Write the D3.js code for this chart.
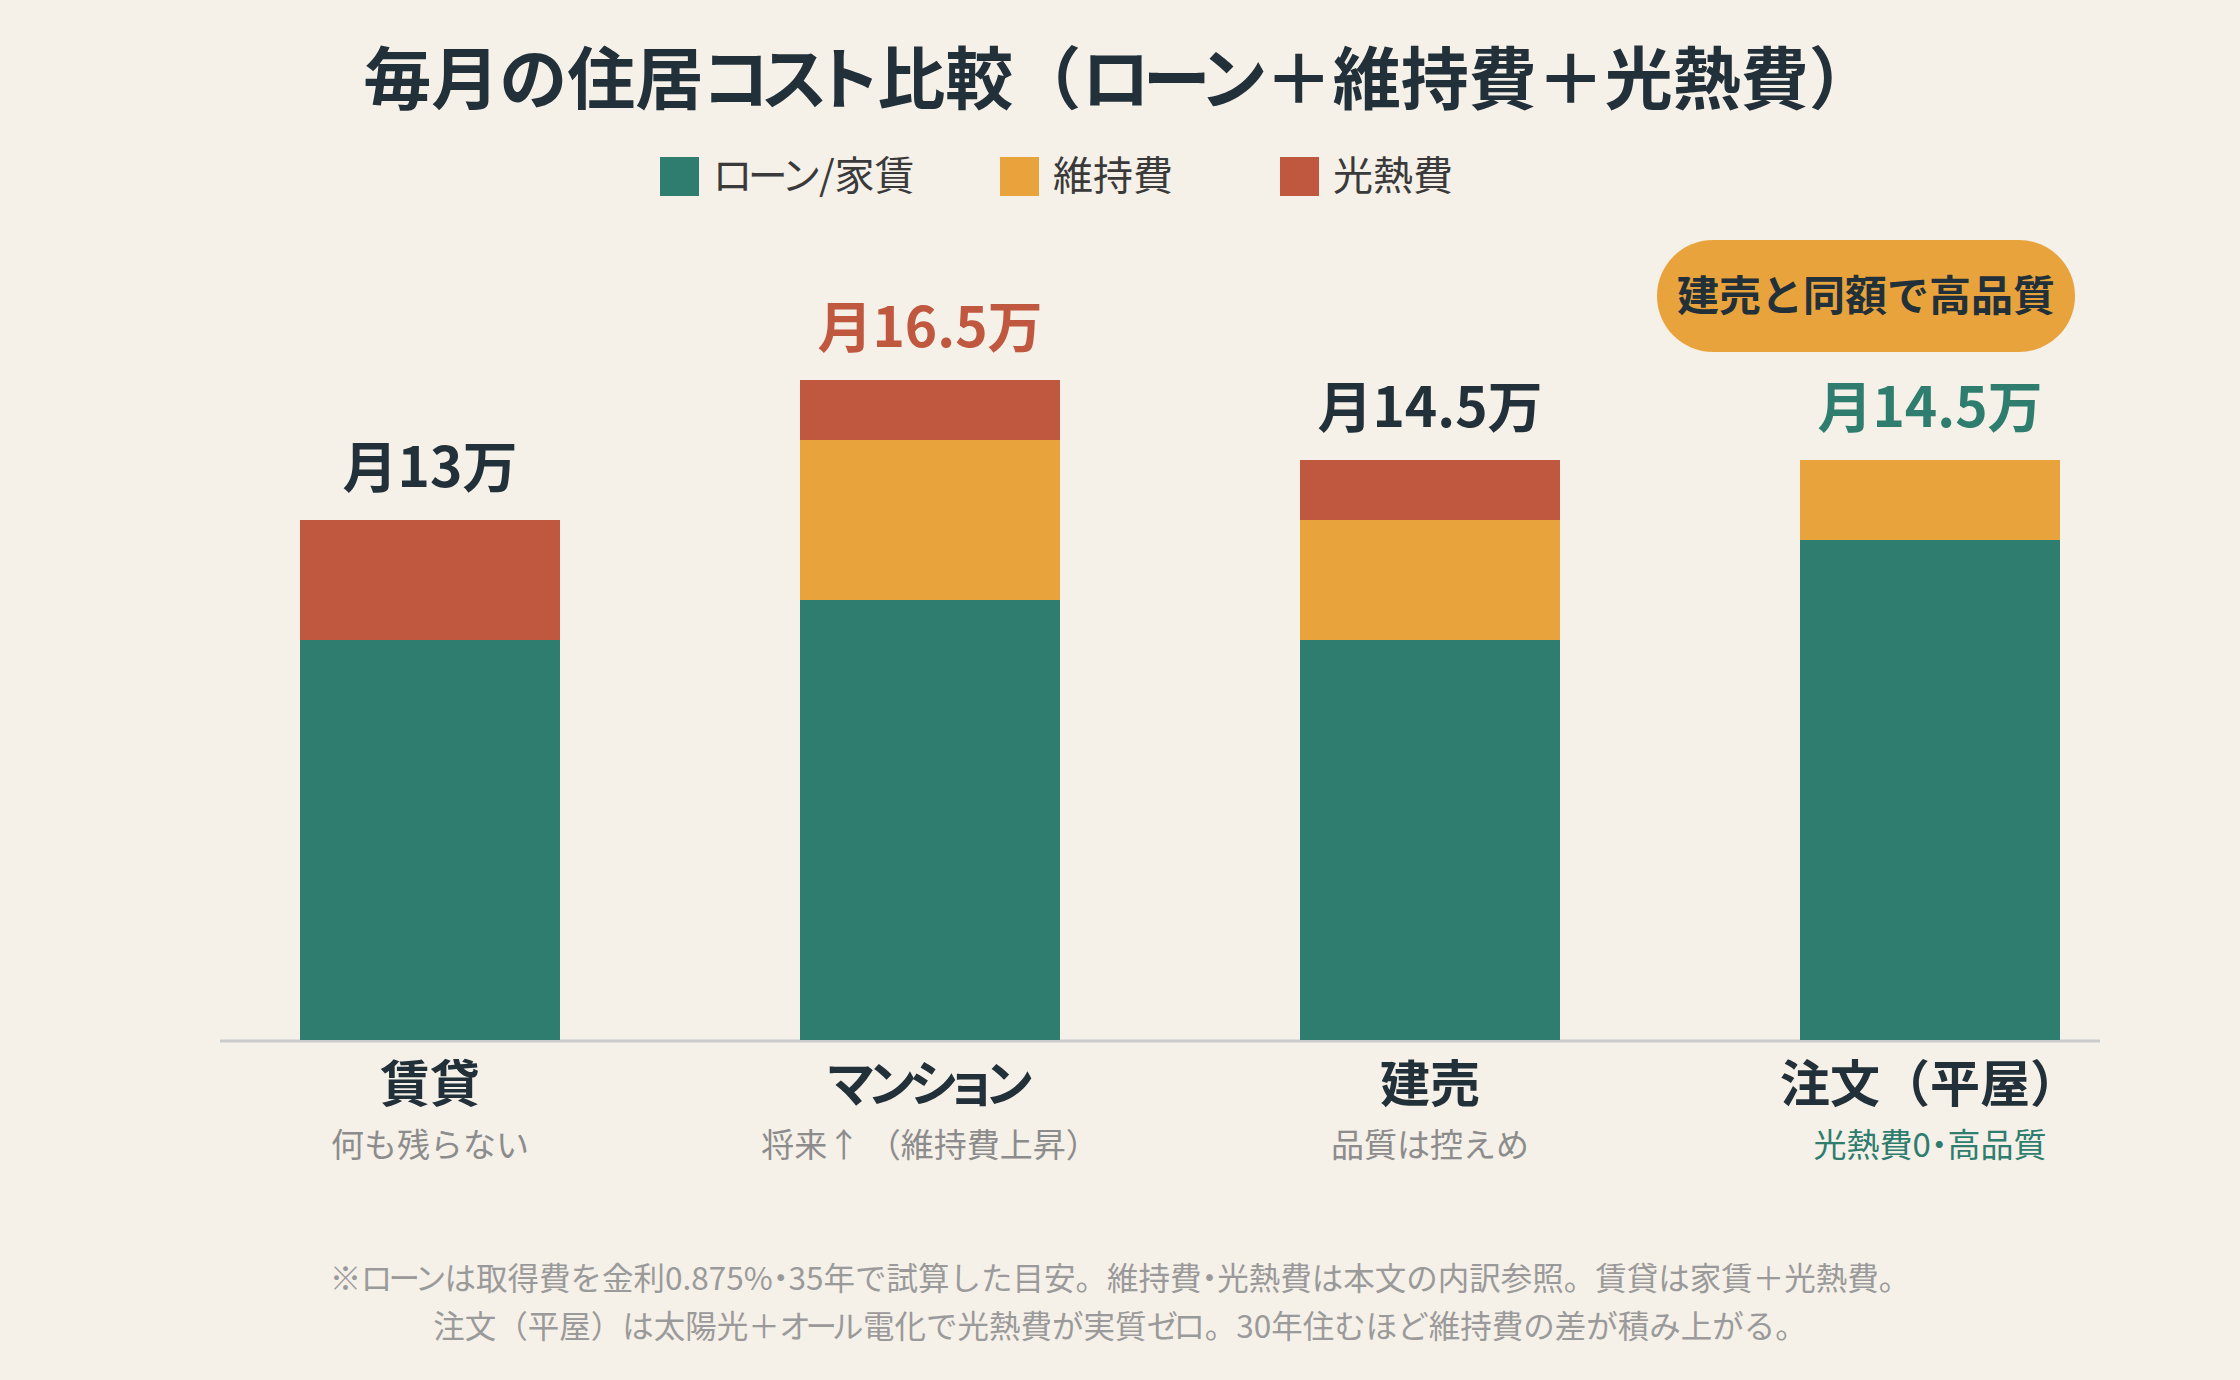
<!DOCTYPE html>
<html>
<head>
<meta charset="utf-8">
<script src="https://cdn.jsdelivr.net/npm/d3@7"></script>
<style>
  html, body { margin: 0; padding: 0; background: #f5f0e8; }
  svg { display: block; font-family: "Noto Sans CJK JP", "Noto Sans", sans-serif; }
</style>
</head>
<body>
<div id="chart"></div>
<script>
// data
var categories = ["賃貸", "マンション", "建売", "注文（平屋）"];
var subLabels = ["何も残らない", "将来↑ （維持費上昇）", "品質は控えめ", "光熱費0・高品質"];
var loanValues = [10, 11, 10, 12.5];
var maintValues = [0, 4, 3, 2];
var energyValues = [3, 1.5, 1.5, 0];
var totalLabels = ["月13万", "月16.5万", "月14.5万", "月14.5万"];
var seriesNames = ["ローン/家賃", "維持費", "光熱費"];
var badgeText = "建売と同額で高品質";
var titleText = "毎月の住居コスト比較（ローン＋維持費＋光熱費）";
var noteLines = [
  "※ローンは取得費を金利0.875%・35年で試算した目安。維持費・光熱費は本文の内訳参照。賃貸は家賃＋光熱費。",
  "注文（平屋）は太陽光＋オール電化で光熱費が実質ゼロ。30年住むほど維持費の差が積み上がる。"
];

var W = 2240, H = 1380;
var colors = ["#2e7d6e", "#e8a33c", "#c0583f"];
var labelColors = ["#22303a", "#c0583f", "#22303a", "#2e7d6e"];
var subColors = ["#8c8c8c", "#8c8c8c", "#8c8c8c", "#2e7d6e"];
var dark = "#22303a";

// katakana runs are set proportional and a bit tighter, the rest stays full width
function setText(sel, str) {
  var kana = /^[\u30A0-\u30FF]+$/;
  str.split(/([\u30A0-\u30FA\u30FC-\u30FF]+|\u30FB)/).forEach(function(part) {
    if (!part) return;
    if (!kana.test(part)) {
      sel.append("tspan").text(part);
    } else if (part == "\u30FB") {
      sel.append("tspan").style("font-feature-settings", "'palt'").text(part);
    } else {
      if (part.length > 1) {
        sel.append("tspan")
          .style("font-feature-settings", "'palt'")
          .style("letter-spacing", "-0.1em")
          .text(part.slice(0, -1));
      }
      sel.append("tspan")
        .style("font-feature-settings", "'palt'")
        .text(part.slice(-1));
    }
  });
  return sel;
}

var svg = d3.select("#chart").append("svg")
  .attr("width", W)
  .attr("height", H);

svg.append("rect").attr("width", W).attr("height", H).attr("fill", "#f5f0e8");

// title
setText(svg.append("text")
  .attr("x", W / 2)
  .attr("y", 104)
  .attr("text-anchor", "middle")
  .attr("font-size", 68)
  .attr("font-weight", 700)
  .attr("fill", dark), titleText);

// legend
var legendX = [660, 1000, 1280];
var legend = svg.append("g");
seriesNames.forEach(function(name, i) {
  legend.append("rect")
    .attr("x", legendX[i])
    .attr("y", 157)
    .attr("width", 39)
    .attr("height", 39)
    .attr("fill", colors[i]);
  setText(legend.append("text")
    .attr("x", legendX[i] + 53)
    .attr("y", 190)
    .attr("font-size", 40)
    .attr("fill", "#3a3a3a"), name);
});

// scales
var x = d3.scaleBand()
  .domain(categories)
  .range([180, 2180])
  .paddingInner(0.48)
  .paddingOuter(0.24);

var y = d3.scaleLinear()
  .domain([0, 20])
  .range([1040, 240]);

// baseline
svg.append("line")
  .attr("x1", 220)
  .attr("x2", 2100)
  .attr("y1", y(0) + 1)
  .attr("y2", y(0) + 1)
  .attr("stroke", "#cccccc")
  .attr("stroke-width", 3);

// stacked bars
var rows = categories.map(function(c, i) {
  return { cat: c, loan: loanValues[i], maint: maintValues[i], energy: energyValues[i] };
});
var stack = d3.stack().keys(["loan", "maint", "energy"]);
var layers = stack(rows);

svg.append("g")
  .selectAll("g")
  .data(layers)
  .enter()
  .append("g")
  .attr("fill", function(d, i) { return colors[i]; })
  .selectAll("rect")
  .data(function(d) { return d; })
  .enter()
  .append("rect")
  .attr("x", function(d) { return x(d.data.cat); })
  .attr("y", function(d) { return y(d[1]); })
  .attr("width", x.bandwidth())
  .attr("height", function(d) { return y(d[0]) - y(d[1]); });

// total labels
svg.append("g")
  .selectAll("text")
  .data(rows)
  .enter()
  .append("text")
  .attr("x", function(d) { return x(d.cat) + x.bandwidth() / 2; })
  .attr("y", function(d) { return y(d.loan + d.maint + d.energy) - 33; })
  .attr("text-anchor", "middle")
  .attr("font-size", 55)
  .attr("font-weight", 700)
  .attr("fill", function(d, i) { return labelColors[i]; })
  .text(function(d, i) { return totalLabels[i]; });

// badge over the last bar
var badgeCx = x(categories[3]) + x.bandwidth() / 2 - 64;
svg.append("rect")
  .attr("x", badgeCx - 209)
  .attr("y", 240)
  .attr("width", 418)
  .attr("height", 112)
  .attr("rx", 56)
  .attr("fill", colors[1]);
svg.append("text")
  .attr("x", badgeCx)
  .attr("y", 311)
  .attr("text-anchor", "middle")
  .attr("font-size", 42)
  .attr("font-weight", 700)
  .attr("fill", dark)
  .text(badgeText);

// category labels
var catG = svg.append("g");
categories.forEach(function(c, i) {
  var cx = x(c) + x.bandwidth() / 2;
  setText(catG.append("text")
    .attr("x", cx)
    .attr("y", 1102)
    .attr("text-anchor", "middle")
    .attr("font-size", 50)
    .attr("font-weight", 700)
    .attr("fill", dark), c);
  setText(catG.append("text")
    .attr("x", cx)
    .attr("y", 1157)
    .attr("text-anchor", "middle")
    .attr("font-size", 33)
    .attr("fill", subColors[i]), subLabels[i]);
});

// footnote
noteLines.forEach(function(t, i) {
  setText(svg.append("text")
    .attr("x", W / 2)
    .attr("y", 1290 + i * 48)
    .attr("text-anchor", "middle")
    .attr("font-size", 31.5)
    .attr("fill", "#9a9a9a"), t);
});
</script>
</body>
</html>
